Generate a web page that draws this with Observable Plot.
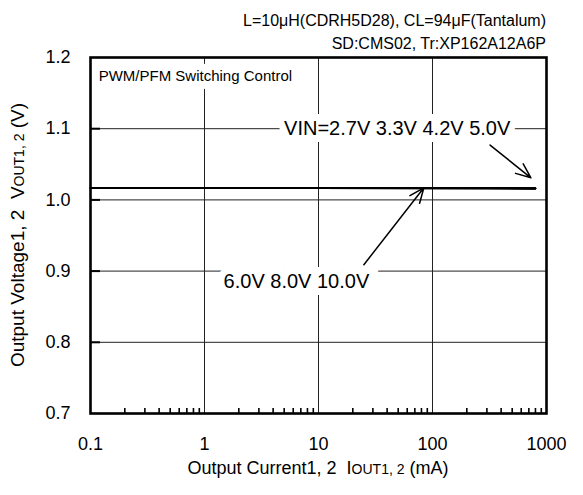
<!DOCTYPE html>
<html><head><meta charset="utf-8">
<script src="https://cdn.jsdelivr.net/npm/d3@7"></script>
<script src="https://cdn.jsdelivr.net/npm/@observablehq/plot@0.6"></script>
<style>
body{margin:0;background:#fff;}
#chart svg{font-family:"Liberation Sans",Arial,sans-serif;background:#fff;}
</style>
</head><body><div id="chart"></div>
<script>
// ---- data ----
const loadCurrent = [0.1, 1, 10, 100, 300, 800];           // mA
const vinLabels = ["2.7V", "3.3V", "4.2V", "5.0V", "6.0V", "8.0V", "10.0V"];
const vout27  = [1.0165, 1.0165, 1.0165, 1.016, 1.016, 1.0155];
const vout33  = [1.0165, 1.0165, 1.0165, 1.016, 1.016, 1.016];
const vout42  = [1.017, 1.017, 1.0165, 1.0165, 1.016, 1.016];
const vout50  = [1.017, 1.017, 1.017, 1.0165, 1.0165, 1.016];
const vout60  = [1.017, 1.017, 1.017, 1.017, 1.0165, 1.016];
const vout80  = [1.017, 1.017, 1.017, 1.017, 1.0165, 1.0165];
const vout100 = [1.017, 1.017, 1.017, 1.017, 1.017, 1.0165];
const seriesValues = [vout27, vout33, vout42, vout50, vout60, vout80, vout100];

const xTicks = [0.1, 1, 10, 100, 1000];
const xGrid = [1, 10, 100];
const xMinor = [0.2,0.3,0.4,0.5,0.6,0.7,0.8,0.9, 2,3,4,5,6,7,8,9, 20,30,40,50,60,70,80,90, 200,300,400,500,600,700,800,900];
const yTicks = [0.7, 0.8, 0.9, 1.0, 1.1, 1.2];
const yGrid = [0.8, 0.9, 1.0, 1.1];

const titleLines = ["L=10\u03bcH(CDRH5D28), CL=94\u03bcF(Tantalum)", "SD:CMS02, Tr:XP162A12A6P"];
const modeNote = [{x: 0.118, y: 1.174, text: "PWM/PFM Switching Control"}];
const vinNotes = [
  {x: 49, y: 1.1, text: "VIN=2.7V 3.3V 4.2V 5.0V"},
  {x: 6.4, y: 0.885, text: "6.0V 8.0V 10.0V"}
];
const annoArrows = [
  {x1: 320, y1: 1.077, x2: 730, y2: 1.031},
  {x1: 25, y1: 0.909, x2: 84, y2: 1.017}
];

// ---- table ----
const rows = [];
seriesValues.forEach((vals, s) => vals.forEach((v, i) => rows.push({vin: vinLabels[s], current: loadCurrent[i], vout: v})));

const W = 583, H = 495, mL = 90, mR = 37, mT = 57, mB = 82;

const plot = Plot.plot({
  width: W, height: H,
  marginLeft: mL, marginRight: mR, marginTop: mT, marginBottom: mB,
  x: {type: "log", domain: [0.1, 1000]},
  y: {domain: [0.7, 1.2]},
  style: {fontFamily: '"Liberation Sans", Arial, sans-serif', background: "#fff"},
  marks: [
    Plot.ruleX(xGrid, {x: d => d, stroke: "#222", strokeWidth: 1}),
    Plot.ruleY(yGrid, {y: d => d, stroke: "#222", strokeWidth: 1}),
    Plot.ruleX(xMinor, {x: d => d, y1: 0.7, y2: 0.7, insetTop: -5, stroke: "#000", strokeWidth: 1.6}),
    Plot.ruleY(yGrid, {y: d => d, x1: 0.1, x2: 0.1, insetRight: -10, stroke: "#000", strokeWidth: 2}),
    Plot.text(modeNote, {x: "x", y: "y", text: "text", fontSize: 15, textAnchor: "start",
      fill: "#000", stroke: "#fff", strokeWidth: 16}),
    Plot.text(vinNotes, {x: "x", y: "y", text: "text", fontSize: 20, textAnchor: "middle",
      fill: "#000", stroke: "#fff", strokeWidth: 14, strokeLinejoin: "miter"}),
    Plot.line(rows, {x: "current", y: "vout", z: "vin", stroke: "#000", strokeWidth: 1.6}),
    Plot.arrow(annoArrows, {x1: "x1", y1: "y1", x2: "x2", y2: "y2", stroke: "#000", strokeWidth: 1.5, headLength: 16, headAngle: 45}),
    Plot.frame({stroke: "#000", strokeWidth: 2.6}),
    Plot.axisX(xTicks, {tickSize: 0, tickPadding: 24, fontSize: 18, tickFormat: d => String(d), label: null}),
    Plot.axisY(yTicks, {tickSize: 0, tickPadding: 20, fontSize: 18, tickFormat: d3.format(".1f"), label: null})
  ]
});
document.getElementById("chart").appendChild(plot);

// ---- text labels with small-caps subscripts ----
const svg = d3.select(plot);
const tg = svg.append("g").attr("fill", "#000");
titleLines.forEach((t, i) => {
  tg.append("text").attr("x", W - mR).attr("y", 26 + i * 23).attr("text-anchor", "end")
    .attr("font-size", 16).text(t);
});
const xl = tg.append("text").attr("x", mL + (W - mL - mR) / 2).attr("y", H - 21)
  .attr("text-anchor", "middle").attr("font-size", 18);
xl.append("tspan").text("Output Current1, 2\u00a0\u00a0I");
xl.append("tspan").attr("font-size", 14).text("OUT1, 2");
xl.append("tspan").text(" (mA)");
const yl = tg.append("text").attr("transform", `translate(24,${mT + (H - mT - mB) / 2}) rotate(-90)`)
  .attr("text-anchor", "middle").attr("font-size", 19);
yl.append("tspan").text("Output Voltage1, 2\u00a0\u00a0V");
yl.append("tspan").attr("font-size", 14).text("OUT1, 2");
yl.append("tspan").text(" (V)");
</script>
</body></html>
